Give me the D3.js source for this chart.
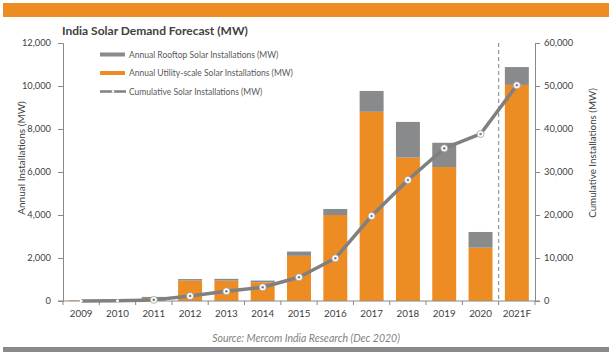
<!DOCTYPE html>
<html><head><meta charset="utf-8">
<script src="https://cdn.jsdelivr.net/npm/d3@7"></script>
<style>body{margin:0;background:#fff}svg{display:block}</style>
</head><body><svg id="c" width="612" height="359"></svg>
<script>
const categories = ["2009","2010","2011","2012","2013","2014","2015","2016","2017","2018","2019","2020","2021F"];
const utility = [30, 30, 140, 950, 950, 870, 2100, 4000, 8800, 6670, 6230, 2480, 10050];
const rooftop = [0, 10, 50, 70, 80, 80, 200, 280, 970, 1660, 1130, 730, 830];
const cumulative = [10, 70, 260, 1150, 2260, 3190, 5510, 9930, 19770, 28140, 35500, 38840, 50160];
const leftTicks = [0, 2000, 4000, 6000, 8000, 10000, 12000];
const rightTicks = [0, 10000, 20000, 30000, 40000, 50000, 60000];

const ORANGE = "#ED8C22", GRAY = "#898A8C", TXT = "#404040", FONT = "Lato, 'Open Sans', sans-serif";
const svg = d3.select("#c");
const L = 63, R = 535, T = 43, B = 301;

svg.append("rect").attr("x",3).attr("y",3).attr("width",606).attr("height",14).attr("fill",ORANGE);
svg.append("rect").attr("x",3).attr("y",347).attr("width",606).attr("height",5).attr("fill","#8A8A8C");

svg.append("text").attr("x",62).attr("y",34.5).attr("font-family",FONT).attr("font-weight","bold")
  .attr("font-size",12).attr("fill",TXT).text("India Solar Demand Forecast (MW)");

const x = d3.scaleBand().domain(categories).range([L,R]).paddingInner(0.34).paddingOuter(0.17);
const xb = d3.scaleBand().domain(categories).range([L,R]);
const yL = d3.scaleLinear().domain([0,12000]).range([B,T]);
const yR = d3.scaleLinear().domain([0,60000]).range([B,T]);

// bars
const g = svg.append("g");
categories.forEach((c,i)=>{
  g.append("rect").attr("x",x(c)).attr("width",x.bandwidth())
    .attr("y",yL(utility[i])).attr("height",B-yL(utility[i])).attr("fill",ORANGE);
  g.append("rect").attr("x",x(c)).attr("width",x.bandwidth())
    .attr("y",yL(utility[i]+rooftop[i])).attr("height",yL(utility[i])-yL(utility[i]+rooftop[i])).attr("fill",GRAY);
});

// dashed divider
svg.append("line").attr("x1",xb("2021F")).attr("x2",xb("2021F")).attr("y1",T).attr("y2",B)
  .attr("stroke","#7f7f7f").attr("stroke-dasharray","4,3").attr("stroke-width",1);

// axes
const axCol = "#898989";
const la = svg.append("g").attr("transform",`translate(${L},0)`)
  .call(d3.axisLeft(yL).tickValues(leftTicks).tickFormat(d3.format(",")).tickSize(5).tickPadding(7));
const ra = svg.append("g").attr("transform",`translate(${R},0)`)
  .call(d3.axisRight(yR).tickValues(rightTicks).tickFormat(d3.format(",")).tickSize(5).tickPadding(4));
const ba = svg.append("g").attr("transform",`translate(0,${B})`)
  .call(d3.axisBottom(xb).tickSize(0).tickPadding(9));
// bottom boundary ticks
svg.append("line").attr("x1",L-5).attr("x2",R+5).attr("y1",B).attr("y2",B).attr("stroke",axCol);
categories.concat(["end"]).forEach((c,i)=>{
  const xx = L + i*xb.step();
  svg.append("line").attr("x1",xx).attr("x2",xx).attr("y1",B).attr("y2",B+4).attr("stroke",axCol);
});
[la,ra].forEach(a=>{
  a.selectAll("text").attr("font-size",9.3);
});
[la,ra,ba].forEach(a=>{
  a.selectAll("path").attr("stroke",axCol);
  a.selectAll("line").attr("stroke",axCol);
  a.selectAll("text").attr("font-family",FONT).attr("fill",TXT);
});
ba.selectAll("text").attr("font-size",9.8);
ba.select("path").remove();

// line
const line = d3.line().x((d,i)=>xb(categories[i])+xb.bandwidth()/2).y(d=>yR(d));
svg.append("path").datum(cumulative).attr("d",line).attr("fill","none")
  .attr("stroke","#808080").attr("stroke-width",3.5).attr("stroke-linejoin","round");
cumulative.forEach((v,i)=>{
  const cx = xb(categories[i])+xb.bandwidth()/2, cy = yR(v);
  if (i<2) {
    svg.append("circle").attr("cx",cx).attr("cy",cy).attr("r",1.5).attr("fill","#fff");
  } else {
    svg.append("circle").attr("cx",cx).attr("cy",cy).attr("r",3.5).attr("fill","#fff").attr("stroke","#a0a0a0").attr("stroke-width",0.8);
    svg.append("circle").attr("cx",cx).attr("cy",cy).attr("r",1.3).attr("fill","#808080");
  }
});

// axis titles
svg.append("text").attr("transform","translate(25,158) rotate(-90)").attr("text-anchor","middle")
  .attr("font-family",FONT).attr("font-size",10).attr("fill",TXT).text("Annual Installations (MW)");
svg.append("text").attr("transform","translate(596,153) rotate(-90)").attr("text-anchor","middle")
  .attr("font-family",FONT).attr("font-size",9.8).attr("fill",TXT).text("Cumulative Installations (MW)");

// legend
const legend = [
  {label:"Annual Rooftop Solar Installations (MW)", type:"rect", color:GRAY, y:54.5},
  {label:"Annual Utility-scale Solar Installations (MW)", type:"rect", color:ORANGE, y:73},
  {label:"Cumulative Solar Installations (MW)", type:"line", color:"#808080", y:91.5}
];
legend.forEach(d=>{
  if (d.type==="rect") svg.append("rect").attr("x",100).attr("y",d.y-2).attr("width",25).attr("height",4).attr("fill",d.color);
  else {
    svg.append("line").attr("x1",100).attr("x2",126).attr("y1",d.y).attr("y2",d.y).attr("stroke",d.color).attr("stroke-width",2.5);
    svg.append("circle").attr("cx",113).attr("cy",d.y).attr("r",1.3).attr("fill","#fff");
  }
  svg.append("text").attr("x",129).attr("y",d.y+3).attr("font-family",FONT).attr("font-size",8.5)
    .attr("fill","#595959").text(d.label);
});

svg.append("text").attr("x",306).attr("y",342).attr("text-anchor","middle").attr("font-family",FONT)
  .attr("font-style","italic").attr("font-size",10.5).attr("fill","#7f7f7f").text("Source: Mercom India Research (Dec 2020)");
</script></body></html>
